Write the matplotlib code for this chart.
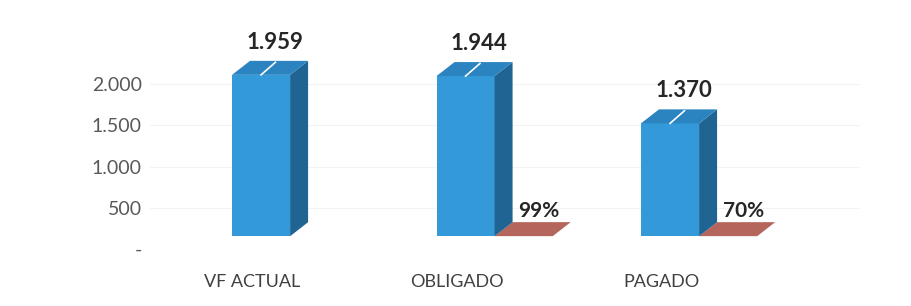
import numpy as np
import matplotlib.pyplot as plt
from matplotlib.patches import Polygon

categories = ["VF ACTUAL", "OBLIGADO", "PAGADO"]
valores = [1959, 1944, 1370]
pct_labels = [None, "99%", "70%"]
pct_values = [None, 0.99, 0.70]
yticks = [0, 500, 1000, 1500, 2000]
ytick_labels = ["-", "500", "1.000", "1.500", "2.000"]

plt.rcParams['font.family'] = ['Lato', 'DejaVu Sans']

# look of the fake 3D bars (data units)
W = 0.284        # bar width
DX = 0.088       # depth to the right
DY = 170         # depth upwards
FLOOR = 155      # front face sits a bit above the back wall zero

BLUE = "#3399d8"
BLUE_TOP = "#2b84c0"
BLUE_SIDE = "#1f6493"
BROWN = "#b4655c"

fig = plt.figure(figsize=(9.12, 3.06), dpi=100)
ax = fig.add_axes([0.1645, 0.1863, 0.7785, 0.673])
ax.set_xlim(-0.685, 2.787)
ax.set_ylim(0, 2500)


def box(x0, h, color_front, color_top, color_side, z):
    y0 = FLOOR
    y1 = FLOOR + h
    x1 = x0 + W
    front = [(x0, y0), (x1, y0), (x1, y1), (x0, y1)]
    top = [(x0, y1), (x1, y1), (x1 + DX, y1 + DY), (x0 + DX, y1 + DY)]
    side = [(x1, y0), (x1 + DX, y0 + DY), (x1 + DX, y1 + DY), (x1, y1)]
    for pts, c in [(front, color_front), (side, color_side), (top, color_top)]:
        ax.add_patch(Polygon(pts, closed=True, facecolor=c, edgecolor="none", zorder=z))


for i, v in enumerate(valores):
    # second series (percent) is nearly flat on this scale
    if pct_values[i] is not None:
        box(i, pct_values[i], BROWN, BROWN, BROWN, 2)
        ax.annotate(pct_labels[i], (i + W / 2 + DX, FLOOR + DY),
                    xytext=(-2, 1), textcoords="offset points",
                    ha="center", va="bottom", fontsize=15, fontweight="bold",
                    color="#262626", zorder=5)
    box(i - W, v, BLUE, BLUE_TOP, BLUE_SIDE, 3)
    # leader line on top face
    ax.plot([i - W / 2, i - W / 2 + DX * 0.8], [FLOOR + v, FLOOR + v + DY * 0.9],
            color="white", lw=1.2, zorder=4)
    ax.annotate(f"{v:,}".replace(",", "."), (i - W / 2 + DX, FLOOR + v + DY),
                xytext=(-3, 6), textcoords="offset points",
                ha="center", va="bottom", fontsize=16, fontweight="bold",
                color="#262626", zorder=5)

for t in yticks[1:]:
    ax.axhline(t, color="#f3f3f3", lw=0.8, zorder=0)

ax.set_yticks(yticks)
ax.set_yticklabels(ytick_labels)
ax.set_xticks(np.arange(len(categories)) - 0.185)
ax.set_xticklabels(categories)
ax.tick_params(axis="y", length=0, pad=6, labelsize=14, labelcolor="#595959")
ax.tick_params(axis="x", length=0, pad=18, labelsize=13, labelcolor="#404040")
for s in ax.spines.values():
    s.set_visible(False)

fig.savefig("out.png", dpi=100, facecolor="white")
